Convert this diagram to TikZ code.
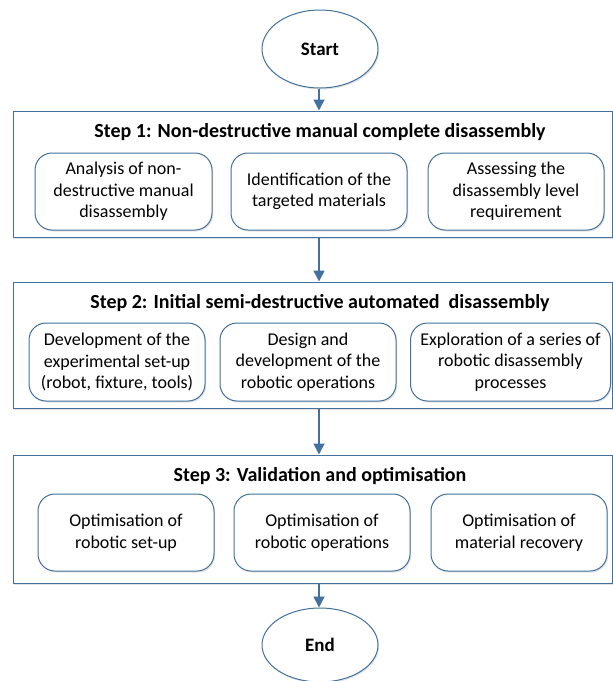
\documentclass[tikz,border=0pt]{standalone}
\usepackage{fontspec}
\setmainfont{Carlito}
\usetikzlibrary{shapes.geometric,arrows.meta,shadows}
\definecolor{edge}{HTML}{41719C}
\tikzset{
  shade/.style={drop shadow={opacity=0.22,shadow xshift=1.2pt,shadow yshift=-1.5pt}},
  outerbox/.style={draw=edge,line width=1pt,fill=white,shade,minimum width=599pt,inner sep=0pt},
  innerbox/.style={draw=edge,line width=1pt,fill=white,shade,rounded corners=17pt,minimum height=77pt,inner sep=0pt,align=center,font=\fontsize{18}{21.5}\selectfont},
  term/.style={draw=edge,line width=1pt,fill=white,shade,ellipse,minimum width=116pt,inner sep=0pt,font=\fontsize{19}{22}\selectfont\bfseries},
  title/.style={font=\fontsize{20}{22}\selectfont\bfseries,inner sep=0pt},
  flow/.style={draw=edge,line width=1.5pt,-{Triangle[width=11pt,length=11pt]},shorten >=0pt}
}
\begin{document}
\begin{tikzpicture}[x=1pt,y=-1pt]
\useasboundingbox (0,0) rectangle (613,681);
% terminals
\node[term,minimum height=78pt] (start) at (320,49) {Start};
% step boxes
\node[outerbox,minimum height=126pt] (s1) at (312.5,174) {};
\node[outerbox,minimum height=126pt] (s2) at (312.5,345) {};
\node[outerbox,minimum height=128pt] (s3) at (312.5,519) {};
\node[term,minimum height=74pt] (end) at (320,645) {End};
% titles
\node[title] (t1) at (320,132) {Step 1: Non-destructive manual complete disassembly};
\node[title] (t2) at (320,303) {Step 2: Initial semi-destructive automated\ \ disassembly};
\node[title] (t3) at (320,476) {Step 3: Validation and optimisation};
% step 1 boxes
\node[innerbox,minimum width=177pt] (a1) at (123.5,191.5) {Analysis of non-\\destructive manual\\disassembly};
\node[innerbox,minimum width=176pt] (a2) at (319,191.5) {Identification of the\\targeted materials};
\node[innerbox,minimum width=176pt] (a3) at (516,191.5) {Assessing the\\disassembly level\\requirement};
% step 2 boxes
\node[innerbox,minimum width=176pt,minimum height=78pt] (b1) at (117,362) {Development of the\\experimental set-up\\(robot, fixture, tools)};
\node[innerbox,minimum width=176pt,minimum height=78pt] (b2) at (308,362) {Design and\\development of the\\robotic operations};
\node[innerbox,minimum width=200pt,minimum height=78pt] (b3) at (510.5,362) {Exploration of a series of\\robotic disassembly\\processes};
% step 3 boxes
\node[innerbox,minimum width=176pt] (c1) at (126,532.5) {Optimisation of\\robotic set-up};
\node[innerbox,minimum width=176pt] (c2) at (322,532.5) {Optimisation of\\robotic operations};
\node[innerbox,minimum width=176pt] (c3) at (519,532.5) {Optimisation of\\material recovery};
% connectors
\coordinate (p0) at (319,0);
\draw[flow] (start.south -| p0) -- (s1.north -| p0);
\draw[flow] (s1.south -| p0) -- (s2.north -| p0);
\draw[flow] (s2.south -| p0) -- (s3.north -| p0);
\draw[flow] (s3.south -| p0) -- (end.north -| p0);
\end{tikzpicture}
\end{document}
